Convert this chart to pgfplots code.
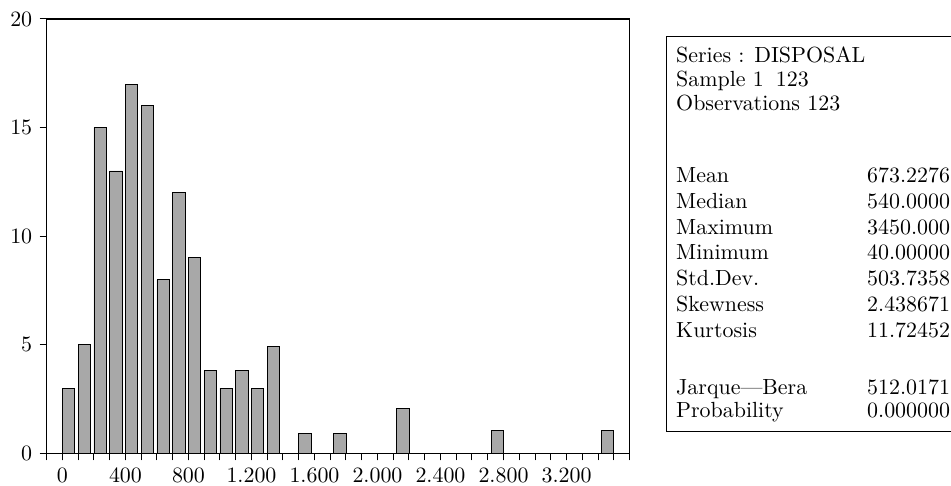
\documentclass[border=0pt]{standalone}
\usepackage{fontspec}
\setmainfont{lmroman10-regular}[Extension=.otf]
\usepackage{pgfplots}
\pgfplotsset{compat=1.18}
\definecolor{barfill}{HTML}{A8A8A8}
\begin{document}
\fontsize{22}{26}\selectfont
\begin{tikzpicture}[x=1bp,y=1bp]
\useasboundingbox (0,0) rectangle (951,486);
\begin{axis}[
  at={(46.7bp,32.7bp)}, anchor=south west,
  scale only axis, width=582.8bp, height=434.3bp,
  xmin=-100, xmax=3600, ymin=0, ymax=20,
  axis line style={line width=1.1pt},
  xtick={0,400,...,3200},
  xticklabels={0,400,800,1.200,1.600,2.000,2.400,2.800,3.200},
  minor xtick={-100,0,...,3600},
  ytick={0,5,10,15,20},
  xtick pos=left, ytick pos=left,
  tick align=outside,
  major tick length=7bp, minor tick length=7bp,
  tick style={black, line width=1pt},
  every tick label/.append style={font=\fontsize{22}{26}\selectfont},
  xticklabel style={text height=1.6ex, text depth=0pt},
  /pgf/number format/assume math mode=true,
  clip=false,
]
\addplot[ybar, bar width=78, fill=barfill, draw=black, line width=0.9pt] coordinates {
  (39,3) (139,5) (239,15) (339,13) (439,17) (539,16) (639,8) (739,12)
  (839,9) (939,3.8) (1039,3) (1139,3.8) (1239,3) (1339,4.9)
  (1539,0.93) (1761,0.93) (2161,2.08) (2762,1.03) (3459,1.03)
};
\end{axis}
\draw[line width=1pt] (666,54) rectangle (990,449);
\begin{scope}[every node/.style={anchor=base west, inner sep=0pt, font=\fontsize{22}{26}\selectfont}]
\node at (676,486-63)  {Series : DISPOSAL};
\node at (676,486-87)  {Sample 1\hspace{0.55em}123};
\node at (676,486-111) {Observations 123};
\node at (676,486-183) {Mean};        \node at (867,486-183) {673.2276};
\node at (676,486-209) {Median};      \node at (867,486-209) {540.0000};
\node at (676,486-235) {Maximum};     \node at (867,486-235) {3450.000};
\node at (676,486-260) {Minimum};     \node at (867,486-260) {40.00000};
\node at (676,486-286) {Std.Dev.};    \node at (867,486-286) {503.7358};
\node at (676,486-312) {Skewness};    \node at (867,486-312) {2.438671};
\node at (676,486-338) {Kurtosis};    \node at (867,486-338) {11.72452};
\node at (676,486-395) {Jarque—Bera}; \node at (867,486-395) {512.0171};
\node at (676,486-418) {Probability}; \node at (867,486-418) {0.000000};
\end{scope}
\end{tikzpicture}
\end{document}
